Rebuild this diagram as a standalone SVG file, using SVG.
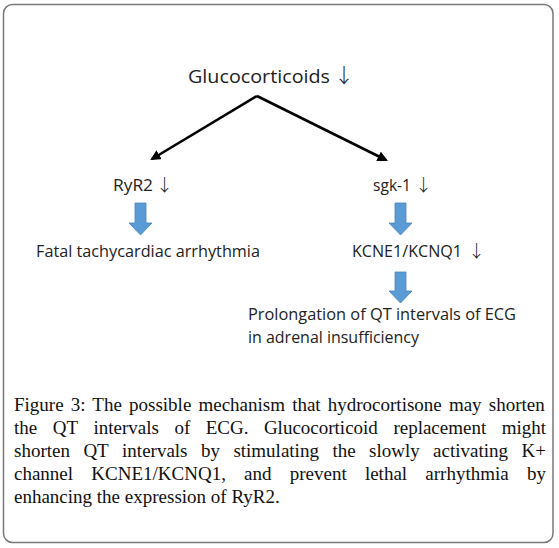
<svg xmlns="http://www.w3.org/2000/svg" width="559" height="548" viewBox="0 0 559 548">
<defs>
<marker id="ah" viewBox="0 0 10 10" refX="8" refY="5" markerWidth="4" markerHeight="4" orient="auto" markerUnits="strokeWidth">
<path d="M0,0 L10,5 L0,10 z" fill="#000"/>
</marker>
<style>
.lbl{font-family:"Open Sans","Noto Sans","DejaVu Sans",sans-serif;fill:#222;}
.ar{font-family:"Noto Sans CJK JP","DejaVu Sans",sans-serif;font-weight:300;}
.blue{fill:#5b9bd5;stroke:#4a86c0;stroke-width:0.8;}
.cap{font-family:"Liberation Serif","Times New Roman",serif;font-size:19px;fill:#111;}
.conn{stroke:#000;stroke-width:2.6;fill:none;stroke-linejoin:round;}
</style>
</defs>
<rect x="3.5" y="4.5" width="549.5" height="538" rx="9" fill="#fff" stroke="#7a7a7a" stroke-width="1.5"/>
<g id="connectors">
<path class="conn" d="M257,96 L152,159" marker-end="url(#ah)"/>
<path class="conn" d="M257,96 L386,160" marker-end="url(#ah)"/>
<path id="arrow-ryr2" class="blue" d="M135,203 H146 V223 H152 L140.5,235 L129,223 H135 Z"/>
<path id="arrow-sgk" class="blue" d="M395,203 H406 V223 H412 L400.5,235 L389,223 H395 Z"/>
<path id="arrow-kcne" class="blue" d="M395,272 H406 V291 H412 L400.5,303 L389,291 H395 Z"/>
</g>
<g id="gluco"><text class="lbl" x="188" y="83" font-size="19"><tspan textLength="142" lengthAdjust="spacingAndGlyphs">Glucocorticoids</tspan><tspan class="ar" x="334" font-size="20">↓</tspan></text></g>
<g id="ryr2"><text class="lbl" x="113" y="191" font-size="16"><tspan textLength="40" lengthAdjust="spacingAndGlyphs">RyR2</tspan><tspan class="ar" x="156" font-size="17">↓</tspan></text></g>
<g id="sgk1"><text class="lbl" x="373" y="191" font-size="16"><tspan textLength="38" lengthAdjust="spacingAndGlyphs">sgk-1</tspan><tspan class="ar" x="415" font-size="17">↓</tspan></text></g>
<g id="fatal"><text class="lbl" x="36" y="257" font-size="16" textLength="224" lengthAdjust="spacingAndGlyphs">Fatal tachycardiac arrhythmia</text></g>
<g id="kcne"><text class="lbl" x="352" y="257" font-size="16"><tspan textLength="110" lengthAdjust="spacingAndGlyphs">KCNE1/KCNQ1</tspan><tspan class="ar" x="468" font-size="17">↓</tspan></text></g>
<g id="prolong"><text class="lbl" x="248" y="320" font-size="16" textLength="268" lengthAdjust="spacingAndGlyphs">Prolongation of QT intervals of ECG</text>
<text class="lbl" x="248" y="343" font-size="16" textLength="171" lengthAdjust="spacingAndGlyphs">in adrenal insufficiency</text></g>
<g id="caption">
<text class="cap" x="14" y="411" word-spacing="2.4">Figure 3: The possible mechanism that hydrocortisone may shorten</text>
<text class="cap" y="434"><tspan x="14">the</tspan><tspan x="52.7">QT</tspan><tspan x="93.5">intervals</tspan><tspan x="174.4">of</tspan><tspan x="205.7">ECG.</tspan><tspan x="263.9">Glucocorticoid</tspan><tspan x="393.4">replacement</tspan></text>
<text class="cap" x="546" y="434" text-anchor="end">might</text>
<text class="cap" y="457"><tspan x="14">shorten</tspan><tspan x="83.4">QT</tspan><tspan x="122.1">intervals</tspan><tspan x="201">by</tspan><tspan x="233.4">stimulating</tspan><tspan x="332.4">the</tspan><tspan x="369">slowly</tspan><tspan x="433.1">activating</tspan></text>
<text class="cap" x="546" y="457" text-anchor="end">K+</text>
<text class="cap" y="480"><tspan x="14">channel</tspan><tspan x="91.3">KCNE1/KCNQ1,</tspan><tspan x="244.1">and</tspan><tspan x="289.7">prevent</tspan><tspan x="364.9">lethal</tspan><tspan x="425.3">arrhythmia</tspan></text>
<text class="cap" x="546" y="480" text-anchor="end">by</text>
<text class="cap" x="14" y="503">enhancing the expression of RyR2.</text>
</g>
</svg>
